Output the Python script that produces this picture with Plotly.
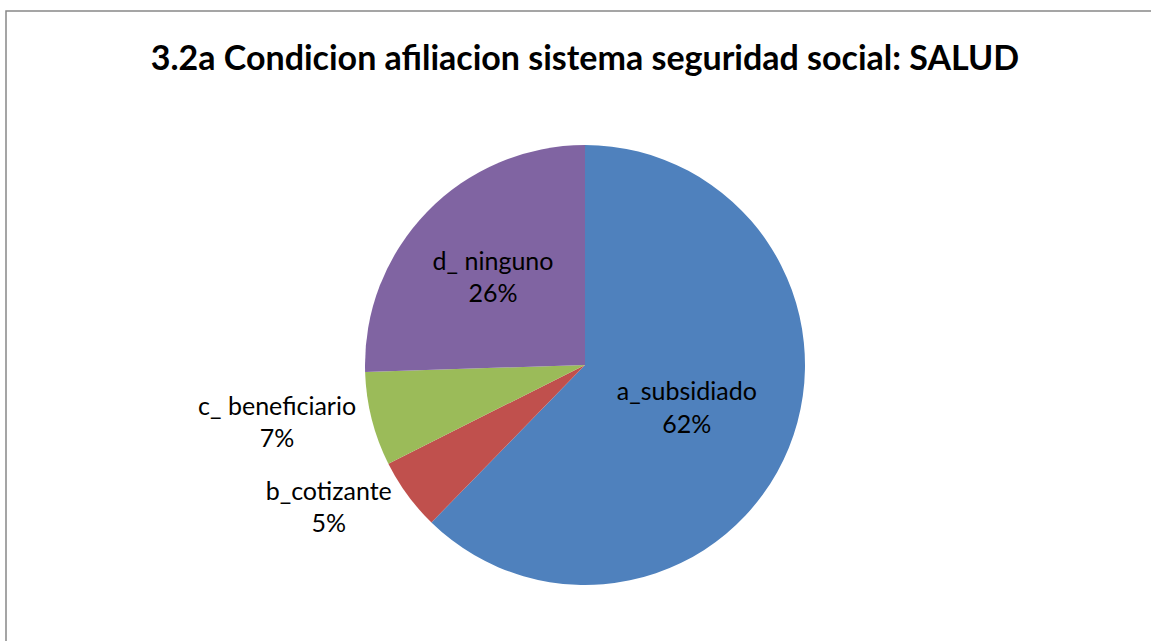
import plotly.graph_objects as go

categories = ["a_subsidiado", "b_cotizante", "c_ beneficiario", "d_ ninguno"]
values = [62.3, 5.3, 6.9, 25.5]
colors = ["#4F81BD", "#C0504D", "#9BBB59", "#8064A2"]
text_positions = ["inside", "outside", "outside", "inside"]
title_text = "3.2a Condicion afiliacion sistema seguridad social: SALUD"

W, H = 1151, 641
cx, cy, r = 585, 365, 220
FONT = "Lato, Carlito, Calibri, Open Sans, sans-serif"

fig = go.Figure(go.Pie(
    labels=categories,
    values=values,
    sort=False,
    direction="clockwise",
    rotation=0,
    marker=dict(colors=colors, line=dict(width=0)),
    texttemplate="%{label}<br>%{percent:.0%}",
    textposition=text_positions,
    insidetextorientation="horizontal",
    textfont=dict(family=FONT, size=25, color="black"),
    showlegend=False,
    hoverinfo="label+percent",
    domain=dict(x=[(cx - r) / W, (cx + r) / W], y=[(H - cy - r) / H, (H - cy + r) / H]),
))

fig.update_layout(
    width=W, height=H,
    margin=dict(l=0, r=0, t=0, b=0),
    paper_bgcolor="white",
    title=dict(text="<b>" + title_text + "</b>", x=585 / W, xanchor="center",
               y=1 - 58 / H, yanchor="middle",
               font=dict(family=FONT, size=34, color="black")),
    shapes=[dict(type="rect", xref="paper", yref="paper", x0=6 / W, x1=1.05, y0=-0.05, y1=1 - 11 / H,
                 line=dict(color="#888888", width=1.5), fillcolor="rgba(0,0,0,0)", layer="below")],
)

fig.write_html("out.html", config={"displayModeBar": False},
               post_script="document.body.style.margin='0px';")
